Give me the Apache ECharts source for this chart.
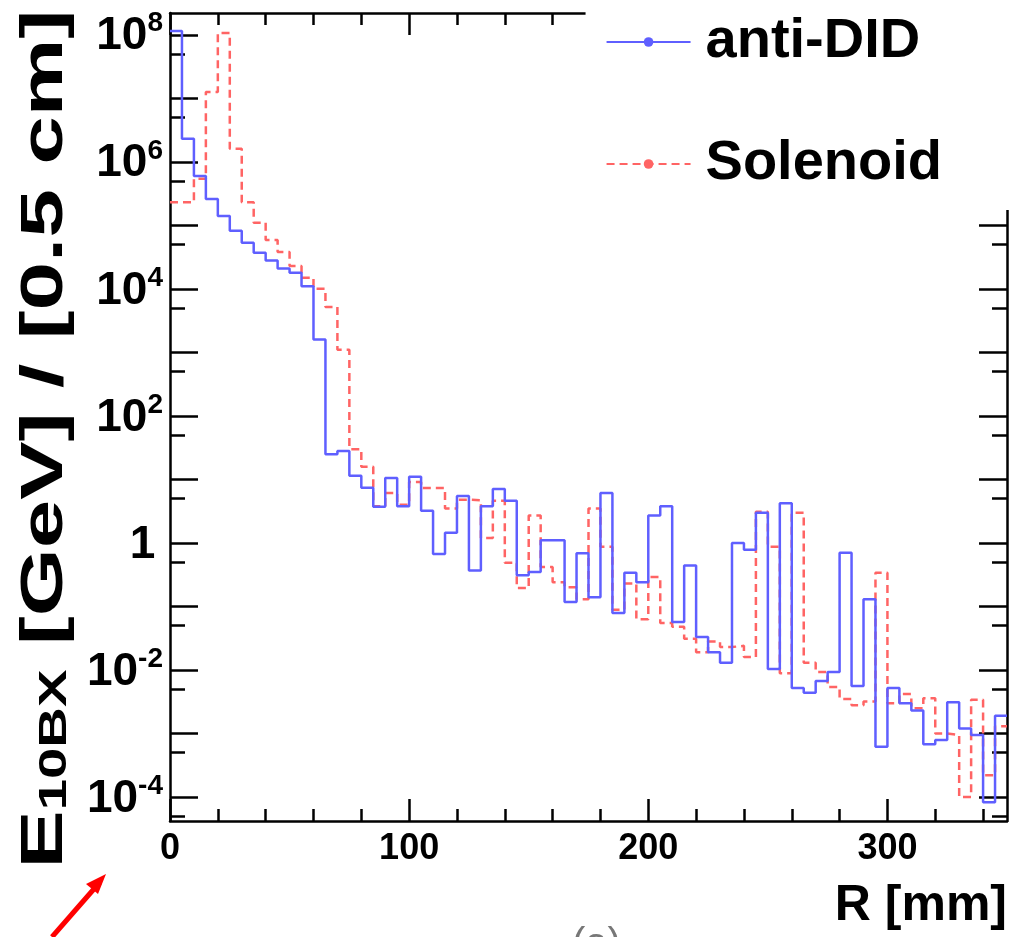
<!DOCTYPE html>
<html>
<head>
<meta charset="utf-8">
<script src="https://cdn.jsdelivr.net/npm/echarts@6/dist/echarts.min.js"></script>
<style>
  html, body { margin: 0; padding: 0; background: #fff; }
  #chart { width: 1010px; height: 937px; }
</style>
</head>
<body>
<div id="chart"></div>
<script>
// ---- data (bin width 5 mm = 0.5 cm, R from 0 to 350 mm) ----
const BIN_WIDTH = 5;
const R_MIN = 0;
const R_MAX = 350;
const seriesNames = ['anti-DID', 'Solenoid'];
const antiDID = [
  1.15e8, 2.3e6, 6.0e5, 2.6e5, 1.4e5, 8.2e4, 5.3e4, 3.7e4, 2.8e4, 2.1e4,
  1.8e4, 1.1e4, 1.6e3, 25, 28, 11.4, 7.4, 3.7, 10.5, 3.8,
  11, 3.2, 0.67, 1.45, 5.5, 0.37, 3.8, 7.1, 4.6, 0.31,
  0.35, 1.1, 1.1, 0.118, 0.69, 0.14, 6.1, 0.079, 0.34, 0.24,
  2.7, 3.8, 0.057, 0.44, 0.033, 0.019, 0.013, 1.0, 0.78, 3.0,
  0.0104, 4.2, 0.0052, 0.0044, 0.0067, 0.0093, 0.70, 0.0056, 0.13, 0.00062,
  0.0052, 0.0030, 0.0023, 0.00068, 0.00079, 0.0031, 0.0012, 0.00095, 8.3e-5, 0.0019
];
const solenoid = [
  2.3e5, 2.3e5, 5.4e5, 1.26e7, 1.07e8, 1.6e6, 2.3e5, 1.1e5, 5.9e4, 3.8e4,
  2.3e4, 1.5e4, 1.0e4, 5.2e3, 1.1e3, 30, 15.8, 3.8, 6.1, 4.0,
  9.1, 7.3, 7.3, 3.5, 4.8, 4.7, 1.2, 4.6, 0.49, 0.195,
  2.7, 0.42, 0.24, 0.20, 0.13, 3.5, 0.87, 0.089, 0.23, 0.063,
  0.29, 0.055, 0.048, 0.031, 0.019, 0.028, 0.023, 0.024, 0.016, 3.1,
  0.87, 0.0089, 3.0, 0.013, 0.0093, 0.0054, 0.0035, 0.0028, 0.0032, 0.34,
  0.0030, 0.0042, 0.0025, 0.0036, 0.0010, 0.00095, 1.0e-4, 0.0034, 2.2e-4, 0.0013
];
// ---- ticks ----
const xLabelValues = [0, 100, 200, 300];
const xMajorTicks = [0, 100, 200, 300];
const xMinorTicks = [20, 40, 60, 80, 120, 140, 160, 180, 220, 240, 260, 280, 320, 340];
const Y_MIN = 4.2e-5;
const Y_MAX = 2.2e8;
const yLabelValues = [1e-4, 1e-2, 1, 1e2, 1e4, 1e6, 1e8];
const yMajorTicks = [1e-4, 1e-3, 1e-2, 1e-1, 1, 1e1, 1e2, 1e3, 1e4, 1e5, 1e6, 1e7, 1e8];
const yMinorTicks = [5e-5, 5e-4, 5e-3, 5e-2, 5e-1, 5, 5e1, 5e2, 5e3, 5e4, 5e5, 5e6, 5e7];

function histSteps(vals) {
  const pts = vals.map((v, i) => [R_MIN + i * BIN_WIDTH, v]);
  pts.push([R_MIN + vals.length * BIN_WIDTH, vals[vals.length - 1]]);
  return pts;
}

const FONT = '"Liberation Sans", Arial, Helvetica, sans-serif';
const BLUE = '#5f5fff';
const RED = '#ff6464';
const AX = '#000';

function xAxisCfg(pos, ticks, len, showLine, labels) {
  return {
    type: 'value', position: pos, min: R_MIN, max: R_MAX,
    axisLine: { show: showLine, onZero: false, lineStyle: { color: AX, width: 2.5 } },
    axisTick: { show: true, inside: true, length: len, customValues: ticks, lineStyle: { color: AX, width: 2.5 } },
    axisLabel: labels ? {
      show: true, customValues: labels, color: AX, fontFamily: FONT, fontWeight: 'bold',
      fontSize: 36, margin: 10
    } : { show: false },
    splitLine: { show: false }
  };
}
function yAxisCfg(pos, ticks, len, showLine, labels) {
  return {
    type: 'log', logBase: 10, position: pos, min: Y_MIN, max: Y_MAX,
    axisLine: { show: showLine, onZero: false, lineStyle: { color: AX, width: 2.5 } },
    axisTick: { show: true, inside: true, length: len, customValues: ticks, lineStyle: { color: AX, width: 2.5 } },
    axisLabel: labels ? {
      show: true, customValues: labels, margin: 7,
      formatter: function (v) {
        const e = Math.round(Math.log10(v));
        if (e === 0) return '{b|1}{s| }';
        return '{b|10}{s|' + e + '}';
      },
      rich: {
        b: { color: AX, fontFamily: FONT, fontWeight: 'bold', fontSize: 46, lineHeight: 50, verticalAlign: 'bottom' },
        s: { color: AX, fontFamily: FONT, fontWeight: 'bold', fontSize: 28, lineHeight: 50, verticalAlign: 'top', padding: [0, 0, 16, 0] }
      }
    } : { show: false },
    splitLine: { show: false }
  };
}

const chart = echarts.init(document.getElementById('chart'), null, { renderer: 'canvas' });
const xMain = xAxisCfg('bottom', xMajorTicks, 22, true, xLabelValues);
xMain.name = 'R [mm]';
xMain.nameLocation = 'end';
xMain.nameGap = 0;
xMain.nameTextStyle = { fontFamily: FONT, fontWeight: 'bold', fontSize: 50, color: AX, align: 'right', verticalAlign: 'top', padding: [60, 0, 0, 0] };

chart.setOption({
  animation: false,
  backgroundColor: '#fff',
  grid: { left: 170, right: 3, top: 13, bottom: 116, containLabel: false, outerBoundsMode: 'none' },
  xAxis: [
    xMain,
    xAxisCfg('bottom', xMinorTicks, 12, false, null),
    xAxisCfg('top', xMajorTicks, 22, true, null),
    xAxisCfg('top', xMinorTicks, 12, false, null)
  ],
  yAxis: [
    yAxisCfg('left', yMajorTicks, 28, true, yLabelValues),
    yAxisCfg('left', yMinorTicks, 15, false, null),
    yAxisCfg('right', yMajorTicks, 28, true, null),
    yAxisCfg('right', yMinorTicks, 15, false, null)
  ],
  legend: {
    orient: 'vertical',
    right: 0, top: 0,
    padding: [14, 68, 18, 20],
    backgroundColor: '#fff',
    itemWidth: 84, itemHeight: 12, itemGap: 66,
    z: 20,
    textStyle: { fontFamily: FONT, fontWeight: 'bold', fontSize: 56, color: AX, padding: [0, 0, 0, 10] },
    data: seriesNames
  },
  series: [
    {
      name: seriesNames[0], type: 'line', step: 'end', xAxisIndex: 0, yAxisIndex: 0,
      data: histSteps(antiDID),
      symbol: 'circle', symbolSize: 9, showSymbol: false,
      itemStyle: { color: BLUE },
      lineStyle: { color: BLUE, width: 2.5, type: 'solid' },
      z: 3
    },
    {
      name: seriesNames[1], type: 'line', step: 'end', xAxisIndex: 0, yAxisIndex: 0,
      data: histSteps(solenoid),
      symbol: 'circle', symbolSize: 9, showSymbol: false,
      itemStyle: { color: RED },
      lineStyle: { color: RED, width: 2.5, type: [8, 5] },
      z: 2
    }
  ],
  graphic: [
    {
      type: 'text', x: 42, y: 439, rotation: Math.PI / 2, scaleX: 1.48, scaleY: 1,
      style: {
        text: '{e|E}{sub|10BX}{e| [GeV] / [0.5 cm]}',
        align: 'center', verticalAlign: 'middle',
        rich: {
          e: { fontFamily: FONT, fontWeight: 'bold', fontSize: 59, fill: AX, lineHeight: 66, verticalAlign: 'bottom' },
          sub: { fontFamily: FONT, fontWeight: 'bold', fontSize: 38, fill: AX, lineHeight: 66, verticalAlign: 'bottom', padding: [15, 0, 0, 0] }
        }
      }
    },
    { type: 'line', shape: { x1: 52, y1: 937, x2: 100, y2: 882 }, style: { stroke: '#ff0000', lineWidth: 5 } },
    { type: 'polygon', shape: { points: [[106, 874], [86, 884], [98, 894]] }, style: { fill: '#ff0000' } },
    { type: 'text', left: 572, top: 925, style: { text: '(a)', font: '40px ' + FONT, fill: '#777' } }
  ]
});
</script>
</body>
</html>
